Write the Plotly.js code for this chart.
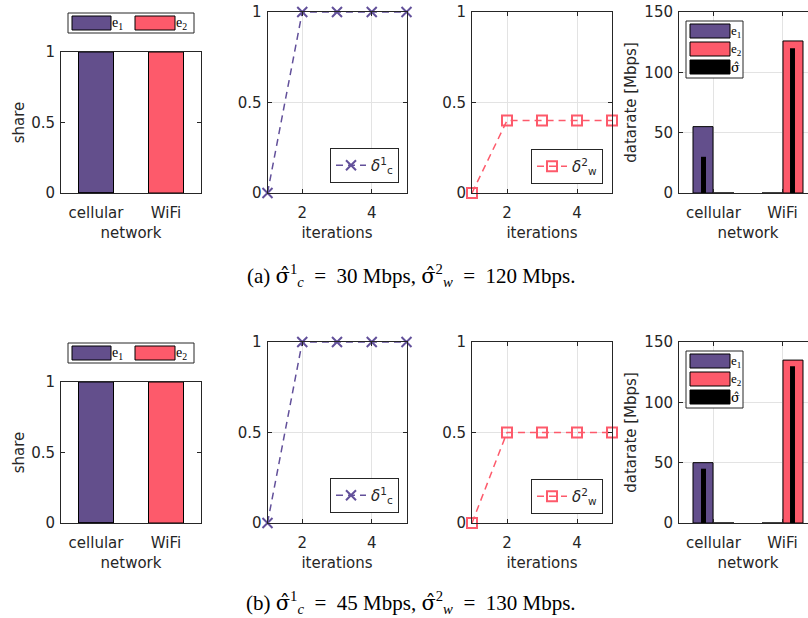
<!DOCTYPE html>
<html><head><meta charset="utf-8">
<script src="https://cdn.plot.ly/plotly-3.0.1.min.js"></script>
<style>html,body{margin:0;padding:0;overflow:hidden;background:#fff}#c{width:830px;height:618px}</style>
</head><body><div id="c"></div>
<script>
// ---- data ----
const networks = ['cellular', 'WiFi'];
const iterations = [1, 2, 3, 4, 5];
// (a)
const shareE1_a = [1, 0];
const shareE2_a = [0, 1];
const deltaC_a = [0, 1, 1, 1, 1];
const deltaW_a = [0, 0.4, 0.4, 0.4, 0.4];
const rateE1_a = [55, 0];
const rateE2_a = [0, 126];
const sigma_a = [30, 120];
// (b)
const shareE1_b = [1, 0];
const shareE2_b = [0, 1];
const deltaC_b = [0, 1, 1, 1, 1];
const deltaW_b = [0, 0.5, 0.5, 0.5, 0.5];
const rateE1_b = [50, 0];
const rateE2_b = [0, 135];
const sigma_b = [45, 130];
const SIG = '<span style="font-family:DejaVu Serif">σ̂</span>';
const EQ = '\u2002=\u2002';
const captions = [
  '(a) ' + SIG + '<sup>1</sup><sub><i>c</i></sub>' + EQ + '30 Mbps, ' + SIG + '<sup>2</sup><sub><i>w</i></sub>' + EQ + '120 Mbps.',
  '(b) ' + SIG + '<sup>1</sup><sub><i>c</i></sub>' + EQ + '45 Mbps, ' + SIG + '<sup>2</sup><sub><i>w</i></sub>' + EQ + '130 Mbps.'
];

// ---- style ----
const W = 830, H = 618;
const F = 'DejaVu Sans';
const SERIF = 'Liberation Serif';
const TXT = '#262626';
const PURPLE = '#634F8C', RED = '#FD5A6B', LPURPLE = '#62509A';
const px = x => x / W;
const py = y => 1 - y / H;
const cols = [[61, 201], [267.5, 406.5], [472, 612], [679, 817]];

function ax(extra) {
  return Object.assign({
    showline: true, linecolor: TXT, linewidth: 1, mirror: 'ticks',
    ticks: 'inside', ticklen: 4, tickcolor: TXT,
    tickfont: {family: F, size: 15, color: TXT},
    zeroline: false, showgrid: false, fixedrange: true, automargin: false
  }, extra);
}
function ttl(t, s) { return {text: t, font: {family: F, size: 15, color: TXT}, standoff: s}; }

const traces = [];
const layout = {
  width: W, height: H, margin: {l: 0, r: 0, t: 0, b: 0},
  paper_bgcolor: '#fff', plot_bgcolor: '#fff',
  barmode: 'overlay', showlegend: true,
  shapes: [], annotations: []
};

function barLegend(box, items, fs) {
  layout.shapes.push({type: 'rect', xref: 'paper', yref: 'paper',
    x0: px(box[0]), x1: px(box[1]), y0: py(box[3]), y1: py(box[2]),
    line: {color: TXT, width: 1}, fillcolor: '#fff', layer: 'above'});
  items.forEach(it => {
    layout.shapes.push({type: 'rect', xref: 'paper', yref: 'paper',
      x0: px(it.x0), x1: px(it.x1), y0: py(it.y1), y1: py(it.y0),
      line: {color: '#000', width: 1}, fillcolor: it.color, layer: 'above'});
    layout.annotations.push({xref: 'paper', yref: 'paper', x: px(it.x1), y: py((it.y0 + it.y1) / 2),
      xanchor: 'left', yanchor: 'middle', showarrow: false, text: it.text, borderpad: 0,
      font: {family: SERIF, size: fs, color: '#000'}});
  });
}

function row(r, d) {
  const off = r * 330;
  const n = r * 4;
  const xa = i => 'x' + (n + i === 1 ? '' : n + i);
  const ya = i => 'y' + (n + i === 1 ? '' : n + i);
  const xk = i => 'xaxis' + (n + i === 1 ? '' : n + i);
  const yk = i => 'yaxis' + (n + i === 1 ? '' : n + i);

  // subplot 1: share
  traces.push({type: 'bar', x: networks, y: d.shareE1, xaxis: xa(1), yaxis: ya(1), width: 0.5,
    marker: {color: PURPLE, line: {color: '#000', width: 1}}, showlegend: false, hoverinfo: 'skip'});
  traces.push({type: 'bar', x: networks, y: d.shareE2, xaxis: xa(1), yaxis: ya(1), width: 0.5,
    marker: {color: RED, line: {color: '#000', width: 1}}, showlegend: false, hoverinfo: 'skip'});
  layout[xk(1)] = ax({domain: [px(cols[0][0]), px(cols[0][1])], anchor: ya(1), type: 'category',
    range: [-0.5, 1.5], ticks: '', ticklabelstandoff: 6, title: ttl('network', 6)});
  layout[yk(1)] = ax({domain: [py(off + 193), py(off + 52)], anchor: xa(1), range: [0, 1],
    tickvals: [0, 0.5, 1], ticktext: ['0', '0.5', '1'], ticklabelstandoff: 2, title: ttl('share', 2)});
  barLegend([68, 194, off + 13, off + 33], [
    {x0: 72, x1: 111, y0: off + 16, y1: off + 30, color: PURPLE, text: 'e<sub>1</sub>'},
    {x0: 135, x1: 175, y0: off + 16, y1: off + 30, color: RED, text: 'e<sub>2</sub>'}
  ], 14);

  // subplot 2: delta c
  const lg2 = 'legend' + (n + 2);
  traces.push({type: 'scatter', mode: 'lines+markers', x: iterations, y: d.deltaC, xaxis: xa(2), yaxis: ya(2),
    line: {color: LPURPLE, width: 1.5, dash: '7px,5px'}, cliponaxis: false,
    marker: {symbol: 'x-thin-open', size: 10, color: LPURPLE, line: {color: LPURPLE, width: 2}},
    name: '<i>δ</i><sup>1</sup><sub>c</sub>', legend: lg2, hoverinfo: 'skip'});
  // subplot 3: delta w
  const lg3 = 'legend' + (n + 3);
  traces.push({type: 'scatter', mode: 'lines+markers', x: iterations, y: d.deltaW, xaxis: xa(3), yaxis: ya(3),
    line: {color: RED, width: 1.5, dash: '7px,5px'}, cliponaxis: false,
    marker: {symbol: 'square-open', size: 10, color: RED, line: {color: RED, width: 2}},
    name: '<i>δ</i><sup>2</sup><sub>w</sub>', legend: lg3, hoverinfo: 'skip'});
  [2, 3].forEach(i => {
    layout[xk(i)] = ax({domain: [px(cols[i - 1][0]), px(cols[i - 1][1])], anchor: ya(i), range: [1, 5],
      tickvals: [2, 4], showgrid: true, gridcolor: '#e3e3e3', ticklabelstandoff: 6, title: ttl('iterations', 6)});
    layout[yk(i)] = ax({domain: [py(off + 193), py(off + 12)], anchor: xa(i), range: [0, 1],
      tickvals: [0, 0.5, 1], ticktext: ['0', '0.5', '1'], ticklabelstandoff: 2, showgrid: true, gridcolor: '#e3e3e3'});
  });
  const lgBase = {bgcolor: '#fff', bordercolor: TXT, borderwidth: 1, xanchor: 'right', yanchor: 'bottom',
    font: {family: F, size: 15, color: TXT}, itemwidth: 30, tracegroupgap: 0, itemclick: false, itemdoubleclick: false};
  layout[lg2] = Object.assign({}, lgBase, {x: px(399), y: py(off + 183)});
  layout[lg3] = Object.assign({}, lgBase, {x: px(603), y: py(off + 184)});

  // subplot 4: datarate
  traces.push({type: 'bar', x: networks, y: d.rateE1, xaxis: xa(4), yaxis: ya(4), width: 0.29, offset: -0.297,
    marker: {color: PURPLE, line: {color: '#000', width: 1}}, showlegend: false, hoverinfo: 'skip'});
  traces.push({type: 'bar', x: networks, y: d.rateE2, xaxis: xa(4), yaxis: ya(4), width: 0.29, offset: 0.007,
    marker: {color: RED, line: {color: '#000', width: 1}}, showlegend: false, hoverinfo: 'skip'});
  traces.push({type: 'bar', x: networks, y: d.sigma, xaxis: xa(4), yaxis: ya(4), width: 0.072, offset: [-0.181, 0.109],
    marker: {color: '#000', line: {color: '#000', width: 0}}, showlegend: false, hoverinfo: 'skip'});
  layout[xk(4)] = ax({domain: [px(cols[3][0]), px(cols[3][1])], anchor: ya(4), type: 'category',
    range: [-0.5, 1.5], showgrid: true, gridcolor: '#e3e3e3', ticklabelstandoff: 6, title: ttl('network', 6)});
  layout[yk(4)] = ax({domain: [py(off + 193), py(off + 12)], anchor: xa(4), range: [0, 150],
    tickvals: [0, 50, 100, 150], ticklabelstandoff: 2, showgrid: true, gridcolor: '#e3e3e3', title: ttl('datarate [Mbps]', 4)});
  barLegend([686, 743, off + 21, off + 78], [
    {x0: 690, x1: 730, y0: off + 24, y1: off + 38, color: PURPLE, text: 'e<sub>1</sub>'},
    {x0: 690, x1: 730, y0: off + 42, y1: off + 56, color: RED, text: 'e<sub>2</sub>'},
    {x0: 690, x1: 730, y0: off + 60, y1: off + 74, color: '#000', text: SIG}
  ], 13);

  layout.annotations.push({xref: 'paper', yref: 'paper', x: px(411), y: py(off + (r ? 272 : 275)),
    xanchor: 'center', yanchor: 'middle', showarrow: false, text: captions[r],
    font: {family: SERIF, size: 21, color: '#000'}});
}

row(0, {shareE1: shareE1_a, shareE2: shareE2_a, deltaC: deltaC_a, deltaW: deltaW_a,
  rateE1: rateE1_a, rateE2: rateE2_a, sigma: sigma_a});
row(1, {shareE1: shareE1_b, shareE2: shareE2_b, deltaC: deltaC_b, deltaW: deltaW_b,
  rateE1: rateE1_b, rateE2: rateE2_b, sigma: sigma_b});

Plotly.newPlot('c', traces, layout, {staticPlot: true, displayModeBar: false});
</script></body></html>
